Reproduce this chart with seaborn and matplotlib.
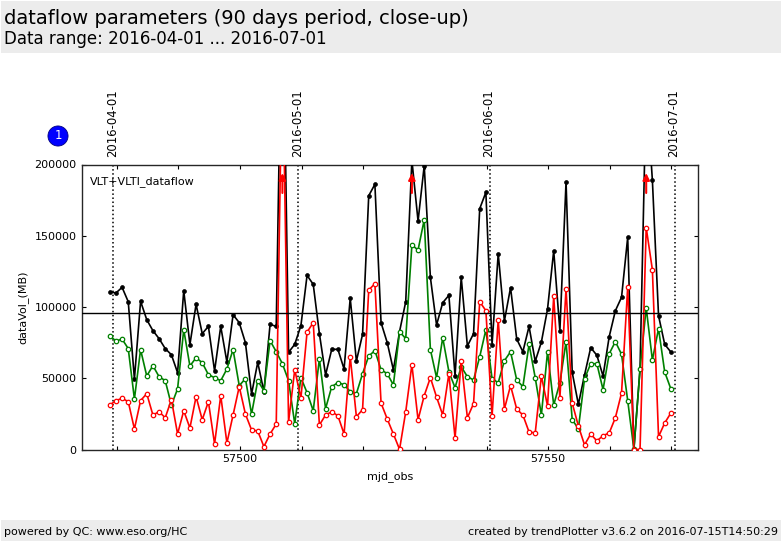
import matplotlib
matplotlib.use("Agg")
import matplotlib.pyplot as plt
from matplotlib.patches import Rectangle
from matplotlib.ticker import MultipleLocator
import pandas as pd
import seaborn as sns

mjd_obs = [
    57478.9, 57479.9, 57480.9, 57481.9, 57482.9, 57483.9, 57484.9, 57485.9, 57486.9, 57487.9,
    57488.9, 57489.9, 57490.9, 57491.9, 57492.9, 57493.9, 57494.9, 57495.9, 57496.9, 57497.9,
    57498.9, 57499.9, 57500.9, 57501.9, 57502.9, 57503.9, 57504.9, 57505.9, 57506.9, 57507.9,
    57508.9, 57509.9, 57510.9, 57511.9, 57512.9, 57513.9, 57514.9, 57515.9, 57516.9, 57517.9,
    57518.9, 57519.9, 57520.9, 57521.9, 57522.9, 57523.9, 57524.9, 57525.9, 57526.9, 57527.9,
    57528.9, 57529.9, 57530.9, 57531.9, 57532.9, 57533.9, 57534.9, 57535.9, 57536.9, 57537.9,
    57538.9, 57539.9, 57540.9, 57541.9, 57542.9, 57543.9, 57544.9, 57545.9, 57546.9, 57547.9,
    57548.9, 57549.9, 57550.9, 57551.9, 57552.9, 57553.9, 57554.9, 57555.9, 57556.9, 57557.9,
    57558.9, 57559.9, 57560.9, 57561.9, 57562.9, 57563.9, 57564.9, 57565.9, 57566.9, 57567.9,
    57568.9, 57569.9,
]

total_mb = [
    110800, 109800, 113800, 103700, 49500, 104000, 91100, 83400, 77800, 70800,
    66500, 53900, 111500, 73600, 101900, 81300, 86400, 55100, 86400, 61400,
    94600, 89000, 75000, 38900, 61200, 40600, 87800, 86400, 345000, 68200,
    73800, 86900, 122200, 115900, 81300, 52300, 70300, 70300, 56500, 106100,
    62100, 80800, 178100, 186100, 89000, 75000, 55800, 82800, 103700, 203000,
    160300, 199200, 120800, 87400, 103000, 108200, 51600, 120800, 72600, 81300,
    169000, 180500, 73600, 137400, 90200, 113600, 77500, 68600, 86400, 61900,
    75400, 98600, 139500, 83200, 187900, 54100, 31700, 52300, 71500, 66100,
    51600, 79200, 97400, 106800, 148900, 0, 56500, 255000, 189100, 93900,
    73800, 68400,
]

green_mb = [
    79900, 76100, 77500, 70800, 35400, 70100, 51600, 58800, 51100, 48300,
    31200, 42500, 84100, 58600, 64400, 60900, 52500, 50400, 48300, 56500,
    70100, 44800, 49700, 24900, 48300, 41300, 76400, 68600, 60200, 48300,
    18100, 50400, 39900, 27200, 63700, 28700, 44100, 46900, 45500, 40600,
    39200, 53200, 65600, 69400, 56000, 53200, 45300, 82700, 77800, 143500,
    140000, 161300, 70100, 50400, 78500, 54600, 43400, 58100, 51100, 48800,
    65100, 84100, 49700, 46900, 62300, 68600, 48800, 44100, 73800, 50400,
    24200, 68600, 31200, 46900, 75700, 20900, 14600, 49700, 60200, 60200,
    42000, 67200, 75700, 66800, 34300, 100, 56500, 99500, 62800, 84800,
    54400, 42500,
]

red_mb = [
    31200, 34300, 35900, 33600, 14400, 34300, 39200, 24200, 26500, 22300,
    35000, 10900, 27200, 15100, 37100, 20900, 33600, 3900, 37800, 4600,
    24200, 44100, 24900, 13700, 13000, 2000, 10900, 17900, 285000, 19300,
    56000, 36100, 82400, 89000, 17200, 24200, 26500, 23700, 10900, 65100,
    23000, 28000, 111900, 116400, 32600, 21400, 10900, 100, 26500, 59500,
    20900, 37800, 50400, 36800, 24200, 53200, 8100, 62300, 22300, 32200,
    103700, 97400, 23500, 90900, 28400, 44800, 28400, 24200, 12300, 11600,
    51600, 30500, 107700, 36100, 112900, 32600, 16500, 3200, 10900, 6000,
    9700, 11600, 22300, 39600, 114000, 0, 0, 155700, 126200, 9000,
    18600, 25600,
]

month_mjd = [57479.5, 57509.5, 57540.5, 57570.5]
month_labels = ["2016-04-01", "2016-05-01", "2016-06-01", "2016-07-01"]
average_mb = 95500
y_ticks = [0, 50000, 100000, 150000, 200000]

Y_MAX = 200000

sns.set_theme(style="ticks", rc={
    "axes.linewidth": 1.0,
    "font.family": "DejaVu Sans",
    "text.color": "black",
    "axes.labelcolor": "black",
})

W, H = 782, 542
fig = plt.figure(figsize=(W / 100, H / 100), dpi=100)
ax = fig.add_axes([82 / W, 1 - 449.5 / H, 616 / W, 285 / H])

df = pd.DataFrame({"mjd_obs": mjd_obs, "total": total_mb, "green": green_mb, "red": red_mb})

sns.lineplot(data=df, x="mjd_obs", y="total", ax=ax, color="black", marker="o", markersize=2.8,
             markerfacecolor="black", markeredgecolor="black", markeredgewidth=0.5,
             linewidth=1.2, legend=False, zorder=3)
sns.lineplot(data=df, x="mjd_obs", y="green", ax=ax, color="#008000", marker="o", markersize=3.2,
             markerfacecolor="white", markeredgecolor="#008000", markeredgewidth=0.9,
             linewidth=1.2, legend=False, zorder=4)
sns.lineplot(data=df, x="mjd_obs", y="red", ax=ax, color="#ff0000", marker="o", markersize=3.2,
             markerfacecolor="white", markeredgecolor="#ff0000", markeredgewidth=0.9,
             linewidth=1.2, legend=False, zorder=5)

ax.axhline(average_mb, color="black", linewidth=1.0, zorder=6)
for m in month_mjd:
    ax.axvline(m, color="black", linestyle=":", linewidth=1.1, zorder=2)

# outliers above the y range get a red arrow
for x, v in zip(mjd_obs, total_mb):
    if v > Y_MAX:
        ax.annotate("", xy=(x, 0.97 * Y_MAX), xytext=(x, 0.90 * Y_MAX), zorder=7,
                    arrowprops=dict(arrowstyle="-|>", color="#ff0000", lw=1.5, mutation_scale=10,
                                    shrinkA=0, shrinkB=0))

ax.set_xlim(57474.4, 57574.3)
ax.set_ylim(0, Y_MAX)
ax.set_yticks(y_ticks)
ax.xaxis.set_major_locator(MultipleLocator(50))
ax.xaxis.set_minor_locator(MultipleLocator(10))
ax.xaxis.set_major_formatter(lambda v, pos: f"{v:.0f}")
ax.tick_params(axis="both", which="both", direction="in", top=True, right=True,
               length=3, width=0.8, labelsize=8, colors="black", pad=4)
ax.tick_params(axis="x", pad=3)
ax.set_xlabel("mjd_obs", fontsize=8, labelpad=5)
ax.set_ylabel("dataVol_(MB)", fontsize=8, labelpad=4)

ax.text(0.013, 0.96, "VLT+VLTI_dataflow", transform=ax.transAxes, fontsize=8, va="top", ha="left")

for m, label in zip(month_mjd, month_labels):
    ax.text(m - 0.15, 1.025, label, transform=ax.get_xaxis_transform(), rotation=90,
            fontsize=8.4, ha="center", va="bottom")

# header and footer bands
fig.add_artist(Rectangle((1 / W, 1 - 53 / H), 780 / W, 52 / H, transform=fig.transFigure,
                         facecolor="#ececec", edgecolor="none", zorder=-1))
fig.add_artist(Rectangle((1 / W, 1 / H), 780 / W, 21 / H, transform=fig.transFigure,
                         facecolor="#ececec", edgecolor="none", zorder=-1))
fig.text(4 / W, 1 - 18 / H, "dataflow parameters (90 days period, close-up)", fontsize=14,
         va="center", ha="left")
fig.text(4 / W, 1 - 39 / H, "Data range: 2016-04-01 ... 2016-07-01", fontsize=12,
         va="center", ha="left")
fig.text(4 / W, 1 - 532 / H, "powered by QC: www.eso.org/HC", fontsize=8, va="center", ha="left")
fig.text(778 / W, 1 - 532 / H, "created by trendPlotter v3.6.2 on 2016-07-15T14:50:29", fontsize=8,
         va="center", ha="right")

fig.text(58 / W, 1 - 136 / H, "1", fontsize=8.5, color="white", va="center", ha="center",
         bbox=dict(boxstyle="circle,pad=0.3", facecolor="#0000ff", edgecolor="#000080", linewidth=0.6))

fig.savefig("out.png", dpi=100)
